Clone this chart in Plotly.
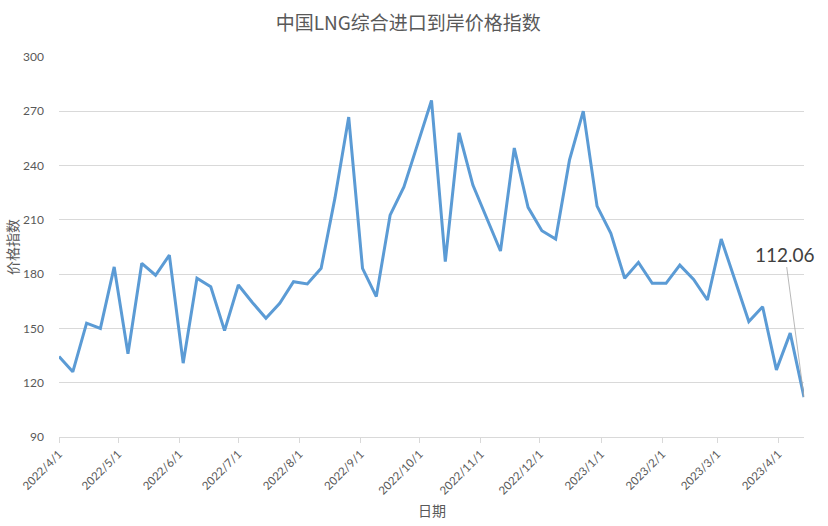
import plotly.graph_objects as go
import pandas as pd

dates = pd.date_range("2022-04-01", periods=55, freq="7D")
values = [
    134.5, 126.0, 152.9, 150.0, 184.0, 136.0, 186.0, 179.4, 190.5, 130.8,
    177.7, 173.0, 148.8, 174.0, 164.5, 155.6, 163.9, 175.8, 174.6, 183.2,
    222.0, 266.8, 183.2, 167.6, 212.6, 228.2, 252.0, 276.0, 186.9, 258.0,
    229.2, 210.8, 192.8, 249.7, 216.9, 204.0, 199.4, 243.0, 270.1, 217.6,
    202.5, 177.7, 186.5, 174.9, 174.9, 185.0, 177.1, 165.7, 199.4, 176.6,
    153.8, 162.0, 127.1, 147.4, 112.06,
]
tick_dates = pd.date_range("2022-04-01", "2023-04-01", freq="MS")
tick_labels = [f"{d.year}/{d.month}/{d.day}" for d in tick_dates]
y_ticks = [90, 120, 150, 180, 210, 240, 270, 300]

title_text = "中国LNG综合进口到岸价格指数"
x_title = "日期"
y_title = "价格指数"
last_label = "112.06"

gray = "#595959"
font_main = "Lato, Noto Sans CJK SC, sans-serif"
font_cjk = "Noto Sans CJK SC, sans-serif"

fig = go.Figure()
fig.add_trace(go.Scatter(
    x=dates, y=values, mode="lines",
    line=dict(color="#5b9bd5", width=3),
    hoverinfo="x+y", showlegend=False,
))

fig.update_layout(
    width=828, height=526,
    margin=dict(l=59, r=24, t=57, b=89),
    paper_bgcolor="white", plot_bgcolor="white",
    title=dict(text=title_text, x=0.493, xanchor="center", y=0.956, yanchor="middle",
               font=dict(family=font_cjk, size=19, color=gray)),
    font=dict(family=font_main, color=gray),
    xaxis=dict(
        type="date", range=[dates[0], dates[-1]], automargin=False,
        tickvals=list(tick_dates), ticktext=tick_labels, tickangle=-45,
        tickfont=dict(family=font_main, size=11.5, color=gray),
        showgrid=False, showline=True, linecolor="#d9d9d9", linewidth=1,
        ticks="outside", ticklen=5, tickcolor="#d9d9d9", zeroline=False,
    ),
    yaxis=dict(
        range=[90, 300], tickvals=y_ticks, automargin=False,
        tickfont=dict(family=font_main, size=12, color=gray),
        showgrid=True, gridcolor="#d9d9d9", gridwidth=1,
        showline=False, zeroline=False, ticks="", ticklabelstandoff=14,
    ),
    annotations=[
        dict(text=y_title, xref="paper", yref="paper", x=0, y=0.5, xshift=-47,
             textangle=-90, showarrow=False, xanchor="center", yanchor="middle",
             font=dict(family=font_cjk, size=14, color=gray)),
        dict(text=x_title, xref="paper", yref="paper", x=0.5, y=0, yshift=-73,
             showarrow=False, xanchor="center", yanchor="middle",
             font=dict(family=font_cjk, size=14, color=gray)),
        dict(text=last_label, x=dates[-1], y=values[-1], xref="x", yref="y",
             showarrow=True, arrowhead=0, arrowwidth=0.8, arrowcolor="#a6a6a6",
             ax=-19, ay=-143, standoff=0,
             font=dict(family=font_main, size=19, color="#404040")),
    ],
)

fig.write_html("out.html", config={"displayModeBar": False},
               post_script="document.body.style.margin='0';")
